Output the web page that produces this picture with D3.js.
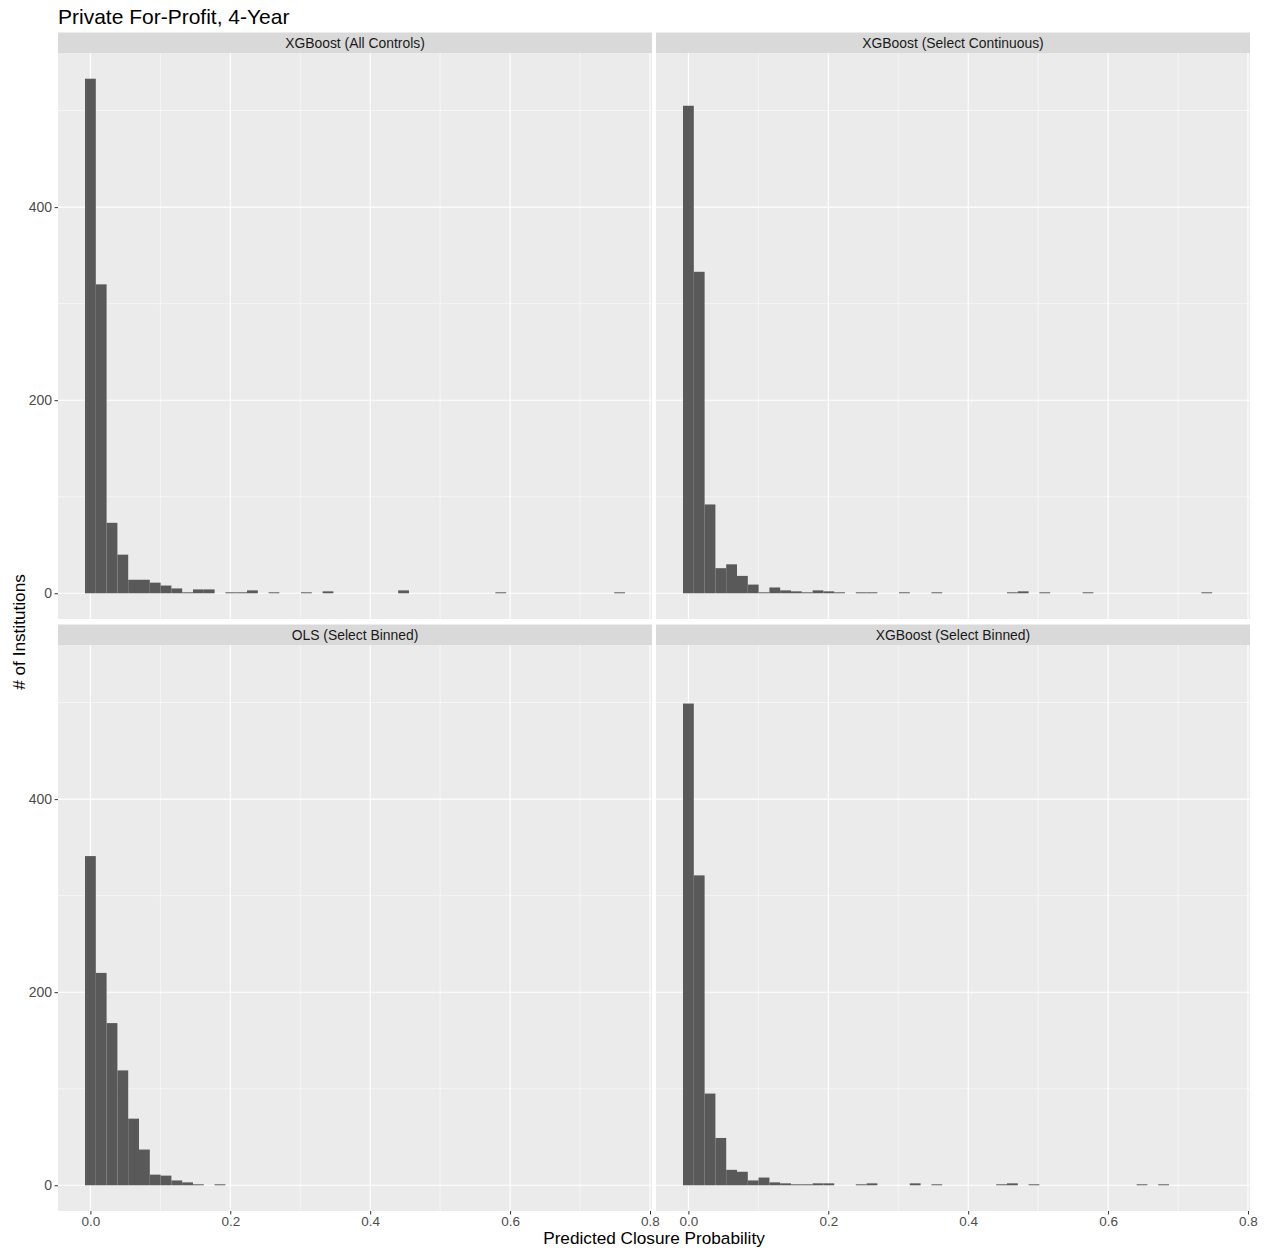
<!DOCTYPE html>
<html>
<head>
<meta charset="utf-8">
<script src="https://cdn.jsdelivr.net/npm/d3@7"></script>
<style>
  body { margin: 0; background: #fff; }
  text { font-family: "Liberation Sans", Arial, sans-serif; }
</style>
</head>
<body>
<svg width="1266" height="1251"></svg>
<script>
// chart data: histogram counts per bin (50 bins, centred on k * binWidth)
const panelNames = ["XGBoost (All Controls)", "XGBoost (Select Continuous)", "OLS (Select Binned)", "XGBoost (Select Binned)"];
const binWidth = 0.01544;
const nBins = 50;
const countsAllControls = [533, 320, 73, 40, 14, 14, 11, 8, 5, 1, 4, 4, 0, 1, 1, 3, 0, 1, 0, 0,
                           1, 0, 2, 0, 0, 0, 0, 0, 0, 3, 0, 0, 0, 0, 0, 0, 0, 0, 1, 0,
                           0, 0, 0, 0, 0, 0, 0, 0, 0, 1];
const countsSelectContinuous = [505, 333, 92, 26, 30, 18, 9, 1, 6, 3, 2, 1, 3, 2, 1, 0, 1, 1, 0, 0,
                                1, 0, 0, 1, 0, 0, 0, 0, 0, 0, 1, 2, 0, 1, 0, 0, 0, 1, 0, 0,
                                0, 0, 0, 0, 0, 0, 0, 0, 1, 0];
const countsOlsBinned = [341, 220, 168, 119, 69, 37, 11, 10, 5, 3, 1, 0, 1, 0, 0, 0, 0, 0, 0, 0,
                         0, 0, 0, 0, 0, 0, 0, 0, 0, 0, 0, 0, 0, 0, 0, 0, 0, 0, 0, 0,
                         0, 0, 0, 0, 0, 0, 0, 0, 0, 0];
const countsSelectBinned = [499, 321, 95, 49, 16, 14, 5, 8, 3, 2, 1, 1, 2, 2, 0, 0, 1, 2, 0, 0,
                            0, 2, 0, 1, 0, 0, 0, 0, 0, 1, 2, 0, 1, 0, 0, 0, 0, 0, 0, 0,
                            0, 0, 1, 0, 1, 0, 0, 0, 0, 0];
const xTicks = [0, 0.2, 0.4, 0.6, 0.8];
const xMinor = [0.1, 0.3, 0.5, 0.7];
const yTicks = [0, 200, 400];
const yMinor = [100, 300, 500];

const allCounts = [countsAllControls, countsSelectContinuous, countsOlsBinned, countsSelectBinned];

const svg = d3.select("svg");
svg.append("rect").attr("width", 1266).attr("height", 1251).attr("fill", "#fff");

const panelW = 594, panelH = 566, stripH = 20.5;
const left0 = 58, top0 = 32.5, stepX = 598, stepY = 592;

// shared scales (facet_wrap with fixed scales)
const lo = -binWidth / 2, hi = (nBins - 0.5) * binWidth;
const padX = (hi - lo) * 0.05;
const x = d3.scaleLinear().domain([lo - padX, hi + padX]).range([0, panelW]);
const maxCount = d3.max(allCounts, c => d3.max(c));
const y = d3.scaleLinear().domain([-0.05 * maxCount, 1.05 * maxCount]).range([panelH, 0]);

const bins = d3.range(nBins).map(i => i * binWidth);

allCounts.forEach((counts, p) => {
  const col = p % 2, row = Math.floor(p / 2);
  const g = svg.append("g")
      .attr("transform", `translate(${left0 + col * stepX},${top0 + row * stepY})`);

  // strip
  g.append("rect").attr("width", panelW).attr("height", stripH).attr("fill", "#D9D9D9");
  g.append("text")
      .attr("x", panelW / 2).attr("y", stripH / 2 + 5)
      .attr("text-anchor", "middle")
      .attr("font-size", "13.9px")
      .attr("fill", "#1A1A1A")
      .text(panelNames[p]);

  const pg = g.append("g").attr("transform", `translate(0,${stripH})`);
  pg.append("rect").attr("width", panelW).attr("height", panelH).attr("fill", "#EBEBEB");

  // grid
  pg.selectAll(".vminor").data(xMinor).enter().append("line")
      .attr("x1", d => x(d)).attr("x2", d => x(d)).attr("y1", 0).attr("y2", panelH)
      .attr("stroke", "#fff").attr("stroke-width", 0.55);
  pg.selectAll(".hminor").data(yMinor).enter().append("line")
      .attr("y1", d => y(d)).attr("y2", d => y(d)).attr("x1", 0).attr("x2", panelW)
      .attr("stroke", "#fff").attr("stroke-width", 0.55);
  pg.selectAll(".vmajor").data(xTicks).enter().append("line")
      .attr("x1", d => x(d)).attr("x2", d => x(d)).attr("y1", 0).attr("y2", panelH)
      .attr("stroke", "#fff").attr("stroke-width", 1.1);
  pg.selectAll(".hmajor").data(yTicks).enter().append("line")
      .attr("y1", d => y(d)).attr("y2", d => y(d)).attr("x1", 0).attr("x2", panelW)
      .attr("stroke", "#fff").attr("stroke-width", 1.1);

  // bars
  pg.selectAll(".bar")
    .data(bins.map((c, i) => ({c: c, n: counts[i]})).filter(d => d.n > 0))
    .enter().append("rect")
      .attr("x", d => x(d.c - binWidth / 2))
      .attr("width", x(binWidth) - x(0))
      .attr("y", d => y(d.n))
      .attr("height", d => y(0) - y(d.n))
      .attr("fill", "#595959");

  // axes
  if (col === 0) {
    const ya = pg.append("g")
        .call(d3.axisLeft(y).tickValues(yTicks).tickSize(3.5).tickPadding(2.5));
    ya.select(".domain").remove();
    ya.selectAll("line").attr("stroke", "#333");
    ya.selectAll("text").attr("fill", "#4D4D4D").attr("font-size", "14px")
        .attr("font-family", "Liberation Sans, Arial, sans-serif");
  }
  if (row === 1) {
    const xa = pg.append("g")
        .attr("transform", `translate(0,${panelH})`)
        .call(d3.axisBottom(x).tickValues(xTicks).tickFormat(d3.format(".1f")).tickSize(3.5).tickPadding(2));
    xa.select(".domain").remove();
    xa.selectAll("line").attr("stroke", "#333");
    xa.selectAll("text").attr("fill", "#4D4D4D").attr("font-size", "13.5px")
        .attr("font-family", "Liberation Sans, Arial, sans-serif");
  }
});

// titles
svg.append("text")
  .attr("x", 58).attr("y", 24)
  .attr("font-size", "21px")
  .attr("fill", "#000")
  .text("Private For-Profit, 4-Year");

svg.append("text")
  .attr("x", left0 + (stepX + panelW) / 2).attr("y", 1244)
  .attr("text-anchor", "middle")
  .attr("font-size", "17.2px")
  .attr("fill", "#000")
  .text("Predicted Closure Probability");

svg.append("text")
  .attr("transform", `translate(25,${top0 + (stepY + stripH + panelH) / 2 + stripH / 2}) rotate(-90)`)
  .attr("text-anchor", "middle")
  .attr("font-size", "17.2px")
  .attr("fill", "#000")
  .text("# of Institutions");
</script>
</body>
</html>
